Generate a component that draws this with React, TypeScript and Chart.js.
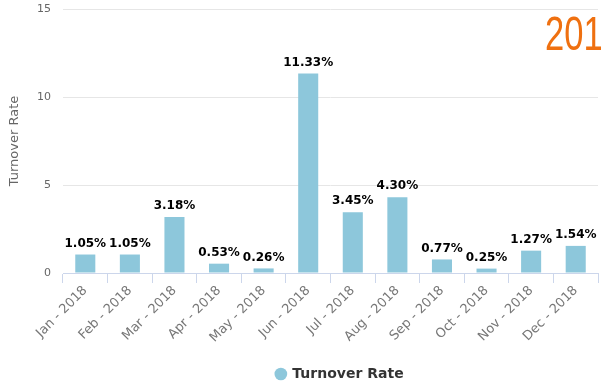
import React, { useEffect, useRef } from "react";
import { Chart, registerables } from "chart.js";

Chart.register(...registerables);

const categories = ["Jan - 2018", "Feb - 2018", "Mar - 2018", "Apr - 2018", "May - 2018", "Jun - 2018", "Jul - 2018", "Aug - 2018", "Sep - 2018", "Oct - 2018", "Nov - 2018", "Dec - 2018"];
const turnoverRate = [1.05, 1.05, 3.18, 0.53, 0.26, 11.33, 3.45, 4.3, 0.77, 0.25, 1.27, 1.54];
const yTicks = [0, 5, 10, 15];
const seriesName = "Turnover Rate";
const overlayTitle = "2018";

const labelPlugin = {
  id: "valueLabels",
  afterDatasetsDraw(chart: any) {
    const ctx = chart.ctx;
    const meta = chart.getDatasetMeta(0);
    ctx.save();
    ctx.font = "bold 12px 'DejaVu Sans'";
    ctx.fillStyle = "#000";
    ctx.textAlign = "center";
    ctx.textBaseline = "bottom";
    meta.data.forEach((el: any, i: number) => {
      ctx.fillText(turnoverRate[i].toFixed(2) + "%", el.x, el.y - 5);
    });
    ctx.restore();
  },
};

const overlayPlugin = {
  id: "overlayTitle",
  afterLayout(chart: any) {
    if (chart.legend) {
      chart.legend.left += 41;
      chart.legend.right += 41;
    }
  },
  afterDraw(chart: any) {
    const ctx = chart.ctx;
    ctx.save();
    ctx.translate(545, 50);
    ctx.scale(0.72, 1);
    ctx.font = "48px 'Liberation Sans'";
    ctx.fillStyle = "#EF7010";
    ctx.textAlign = "left";
    ctx.textBaseline = "alphabetic";
    ctx.fillText(overlayTitle, 0, 0);
    ctx.restore();
  },
};

export default function App() {
  const ref = useRef<HTMLCanvasElement>(null);
  useEffect(() => {
    if (!ref.current) return;
    const chart = new Chart(ref.current, {
      type: "bar",
      data: {
        labels: categories,
        datasets: [
          {
            label: seriesName,
            data: turnoverRate,
            backgroundColor: "#8DC7DB",
            borderWidth: 0,
            barPercentage: 0.45,
            categoryPercentage: 1,
          },
        ],
      },
      options: {
        animation: false,
        responsive: false,
        maintainAspectRatio: false,
        layout: { padding: { top: 9, right: 3, left: 0, bottom: -6 } },
        plugins: {
          legend: {
            position: "bottom",
            labels: {
              usePointStyle: true,
              pointStyle: "circle",
              boxWidth: 9,
              boxHeight: 9,
              color: "#333",
              font: { family: "'DejaVu Sans'", size: 14, weight: "bold" },
              padding: 4,
            },
          },
          tooltip: { enabled: false },
        },
        scales: {
          x: {
            offset: true,
            grid: { display: true, drawOnChartArea: false, drawTicks: true, tickLength: 10, offset: true, color: "#ccd6eb" },
            border: { display: true, color: "#ccd6eb" },
            ticks: {
              color: "#777",
              font: { family: "'DejaVu Sans'", size: 13 },
              maxRotation: 45,
              minRotation: 45,
              autoSkip: false,
              padding: 0,
            },
            afterFit(scale: any) {
              scale.height = 90;
            },
          },
          y: {
            min: 0,
            max: 15,
            afterBuildTicks(scale: any) {
              scale.ticks = yTicks.map((v) => ({ value: v }));
            },
            grid: { color: "#e6e6e6", drawTicks: false },
            border: { display: false },
            ticks: {
              color: "#666",
              font: { family: "'DejaVu Sans'", size: 11 },
              padding: 12,
            },
            title: {
              display: true,
              text: seriesName,
              color: "#666",
              font: { family: "'DejaVu Sans'", size: 13 },
              padding: { top: 7, bottom: 0 },
            },
            afterFit(scale: any) {
              scale.width = 63;
              scale.paddingTop = 0;
              scale.paddingBottom = 0;
            },
          },
        },
      },
      plugins: [labelPlugin, overlayPlugin],
    });
    return () => chart.destroy();
  }, []);
  return (
    <div style={{ position: "fixed", left: 0, top: 0, width: 601, height: 385, background: "#fff" }}>
      <canvas ref={ref} width={601} height={385} style={{ display: "block" }} />
    </div>
  );
}
